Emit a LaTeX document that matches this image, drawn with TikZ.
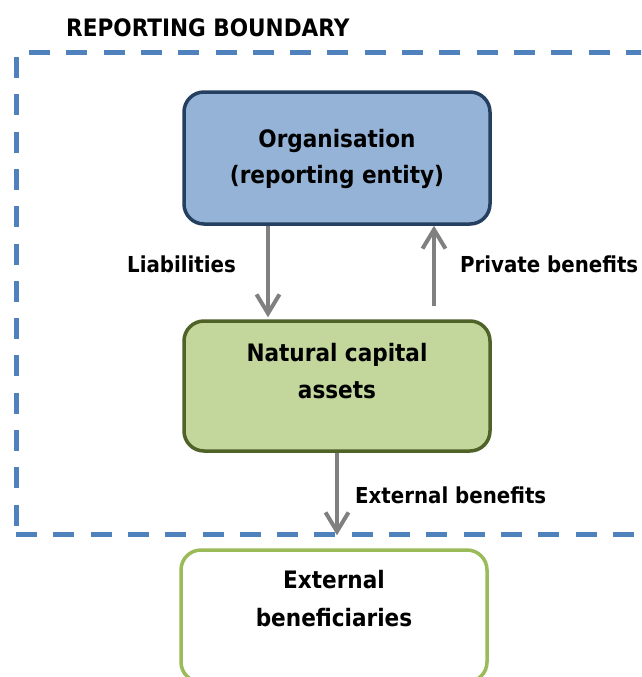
\documentclass[tikz,border=0pt]{standalone}
\usepackage{fontspec}
\setmainfont{DejaVu Sans Condensed}
\usetikzlibrary{arrows.meta}
\definecolor{bnd}{HTML}{4F81BD}
\definecolor{orgfill}{HTML}{95B3D7}
\definecolor{orgdraw}{HTML}{243F60}
\definecolor{ncafill}{HTML}{C3D69B}
\definecolor{ncadraw}{HTML}{4F6228}
\definecolor{extdraw}{HTML}{9BBB59}
\definecolor{arrgray}{HTML}{808080}
\tikzset{
  bndline/.style={draw=bnd, line width=5pt, dash pattern=on 21pt off 16.3pt},
  boxbase/.style={rectangle, rounded corners=20pt, line width=3.5pt, minimum width=306pt, inner sep=0pt},
  orgbox/.style={boxbase, draw=orgdraw, fill=orgfill, minimum height=132pt},
  ncabox/.style={boxbase, draw=ncadraw, fill=ncafill, minimum height=130pt},
  extbox/.style={boxbase, draw=extdraw, fill=white, minimum height=132pt},
  boxtxt/.style={inner sep=0pt, font=\fontsize{24}{28}\selectfont\bfseries, anchor=base},
  lbl/.style={inner sep=0pt, font=\fontsize{22}{26}\selectfont\bfseries, anchor=base west},
  arr/.style={draw=arrgray, line width=4pt, -{Straight Barb[length=19pt,width=23pt]}}
}
\begin{document}
\begin{tikzpicture}[x=1pt,y=-1pt]
\useasboundingbox (0,0) rectangle (641,677);
\clip (0,0) rectangle (641,677);
\fill[white] (0,0) rectangle (641,677);
% reporting boundary
\draw[bndline] (29,53) -- (700,53);
\draw[bndline] (16,57) -- (16,530);
\draw[bndline] (16,534) -- (700,534);
\node[inner sep=0pt, font=\fontsize{24}{28}\selectfont\bfseries, anchor=base west] (title) at (66,37) {REPORTING BOUNDARY};
% boxes
\node[orgbox] (org) at (337,158) {};
\node[ncabox] (nca) at (337,386) {};
\node[extbox] (ext) at (334,616) {};
% box texts
\node[boxtxt] (orgt1) at (337,147) {Organisation};
\node[boxtxt] (orgt2) at (337,183) {(reporting entity)};
\node[boxtxt] (ncat1) at (337,361) {Natural capital};
\node[boxtxt] (ncat2) at (337,398) {assets};
\node[boxtxt] (extt1) at (334,588) {External};
\node[boxtxt] (extt2) at (334,626) {beneficiaries};
% arrows
\draw[arr, shorten >=2pt] ([xshift=-69pt]org.south) -- ([xshift=-69pt]nca.north);
\draw[arr, shorten <=13pt] ([xshift=97pt]nca.north) -- ([xshift=97pt]org.south);
\draw[arr, shorten >=13pt] (nca.south) -- (nca.south |- ext.north);
% labels
\node[lbl] (liab) at (127,272) {Liabilities};
\node[lbl] (priv) at (460,272) {Private benefits};
\node[lbl] (extb) at (355,503) {External benefits};
\end{tikzpicture}
\end{document}
